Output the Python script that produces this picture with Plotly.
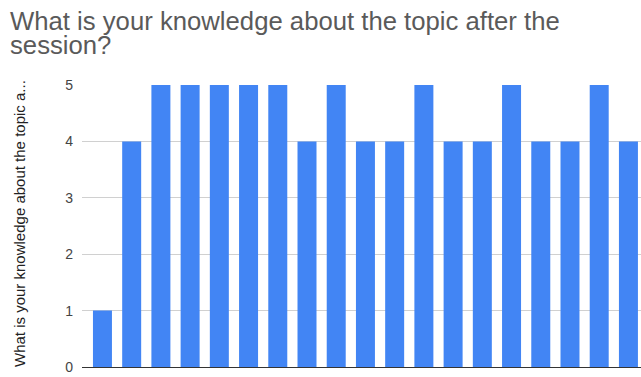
import plotly.graph_objects as go

# Responses per participant (rating 0-5)
respondents = list(range(1, 20))
ratings = [1, 4, 5, 5, 5, 5, 5, 4, 5, 4, 4, 5, 4, 4, 5, 4, 4, 5, 4]
y_ticks = [0, 1, 2, 3, 4, 5]

title_lines = ["What is your knowledge about the topic after the", "session?"]
y_title = "What is your knowledge about the topic a..."

fig = go.Figure(
    go.Bar(
        x=list(range(len(respondents))),
        y=ratings,
        marker=dict(color="#4285F4", line=dict(width=0)),
        width=0.65,
        hoverinfo="y",
    )
)

W, H = 641, 377
m_l, m_r, m_t, m_b = 82, 0, 85, 10
plot_h = H - m_t - m_b

fig.update_layout(
    width=W,
    height=H,
    margin=dict(l=m_l, r=m_r, t=m_t, b=m_b),
    paper_bgcolor="white",
    plot_bgcolor="white",
    showlegend=False,
    font=dict(family="Liberation Sans, Arial, sans-serif", color="#444444"),
    xaxis=dict(
        range=[-0.7, 18.43],
        showticklabels=False,
        showgrid=False,
        zeroline=False,
        showline=False,
        ticks="",
    ),
    yaxis=dict(
        range=[0, 5],
        tickvals=y_ticks,
        ticktext=[str(v) for v in y_ticks],
        tickfont=dict(size=14, color="#444444"),
        showgrid=True,
        gridcolor="#d0d0d0",
        gridwidth=1,
        zeroline=True,
        zerolinecolor="#333333",
        zerolinewidth=1,
        showline=False,
        ticks="",
        ticklabelstandoff=8,
    ),
)

# Title lines placed in pixel terms above the plot area
for i, line in enumerate(title_lines):
    base_px = 31 + i * 24  # baseline distance from top of the page
    fig.add_annotation(
        text=line,
        xref="paper", yref="paper",
        x=-(m_l - 8) / (W - m_l - m_r),
        y=(H - m_b - base_px) / plot_h,
        xanchor="left", yanchor="bottom",
        yshift=-6,
        showarrow=False,
        font=dict(size=25.7, color="#5a5a5a", family="Liberation Sans, Arial, sans-serif"),
    )

# Rotated y-axis title
fig.add_annotation(
    text=y_title,
    xref="paper", yref="paper",
    x=-(m_l - 19) / (W - m_l - m_r),
    y=(367 - 224) / plot_h,
    xanchor="center", yanchor="middle",
    textangle=-90,
    showarrow=False,
    font=dict(size=15, color="#222222", family="Liberation Sans, Arial, sans-serif"),
)

fig.write_html("out.html")
